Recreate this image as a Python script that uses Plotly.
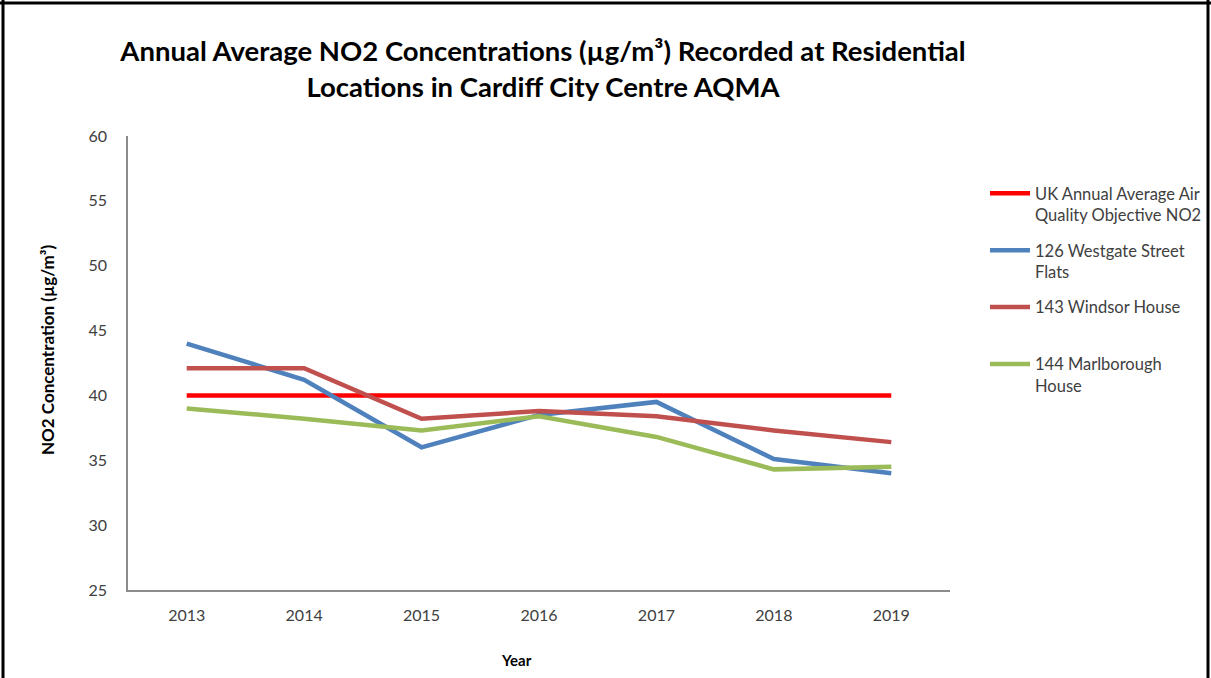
import plotly.graph_objects as go

years = ["2013", "2014", "2015", "2016", "2017", "2018", "2019"]
objective = [40, 40, 40, 40, 40, 40, 40]
westgate = [44.0, 41.2, 36.0, 38.5, 39.5, 35.1, 34.0]
windsor = [42.1, 42.1, 38.2, 38.8, 38.4, 37.3, 36.4]
marlborough = [39.0, 38.2, 37.3, 38.4, 36.8, 34.3, 34.5]

series = [
    ("UK Annual Average Air<br>Quality Objective NO2", objective, "#FF0000"),
    ("126 Westgate Street<br>Flats", westgate, "#4F81BD"),
    ("143 Windsor House<br> ", windsor, "#C0504D"),
    ("144 Marlborough<br>House", marlborough, "#9BBB59"),
]

W, H = 1211, 678
L, R, T, B = 128, 261, 136, 88
pw = W - L - R
ph = H - T - B

fig = go.Figure()
for i, (name, vals, col) in enumerate(series):
    fig.add_trace(go.Scatter(x=years, y=vals, name=name, mode="lines",
                             line=dict(color=col, width=4.5),
                             legendgroup=str(i)))

def px_x(p):
    return (p - L) / pw

def px_y(p):
    return (H - B - p) / ph

font_family = "Lato, 'Open Sans', sans-serif"
fig.update_layout(
    width=W, height=H, autosize=False,
    margin=dict(l=L, r=R, t=T, b=B, autoexpand=False),
    paper_bgcolor="white", plot_bgcolor="white",
    font=dict(family=font_family, size=16, color="#404040"),
    title=dict(text="<b>Annual Average NO2 Concentrations (µg/m³) Recorded at Residential<br>Locations in Cardiff City Centre AQMA</b>",
               x=543 / W, xanchor="center", y=1 - 61 / H, yanchor="middle",
               font=dict(size=27.5, color="#000000", family=font_family)),
    xaxis=dict(type="category", range=[-0.5, 6.5], showgrid=False, showline=True,
               linecolor="#8C8C8C", linewidth=1.5, ticks="outside", ticklen=10,
               tickcolor="rgba(0,0,0,0)", tickfont=dict(size=16, color="#404040")),
    yaxis=dict(range=[25, 60], dtick=5, showgrid=False, showline=True, linecolor="#8C8C8C",
               linewidth=1.5, ticks="outside", ticklen=16, tickcolor="rgba(0,0,0,0)",
               zeroline=False, tickfont=dict(size=16, color="#404040")),
    legend=dict(x=px_x(985), xanchor="left", y=px_y(176), yanchor="top",
                font=dict(size=16.5, color="#404040"), valign="top", tracegroupgap=11,
                itemwidth=40, bgcolor="rgba(0,0,0,0)"),
    showlegend=True,
)

# axis titles placed as annotations to match the reference positions
fig.add_annotation(text="<b>NO2 Concentration (µg/m³)</b>", xref="paper", yref="paper",
                   x=px_x(47), y=px_y(350), textangle=-90, showarrow=False,
                   font=dict(size=17, color="#000000"), xanchor="center", yanchor="middle")
fig.add_annotation(text="<b>Year</b>", xref="paper", yref="paper",
                   x=px_x(516), y=px_y(660), showarrow=False,
                   font=dict(size=15, color="#000000"), xanchor="center", yanchor="middle")

border = dict(color="#000000", width=3)
fig.add_shape(type="line", xref="paper", yref="paper", x0=px_x(3), x1=px_x(3), y0=px_y(0), y1=px_y(H), line=border)
fig.add_shape(type="line", xref="paper", yref="paper", x0=px_x(0), x1=px_x(W), y0=px_y(3), y1=px_y(3), line=border)
fig.add_shape(type="line", xref="paper", yref="paper", x0=px_x(1208), x1=px_x(1208), y0=px_y(0), y1=px_y(H), line=border)

fig.write_html("out.html",
               config={"responsive": False, "displayModeBar": False},
               post_script="document.body.style.margin='0';document.body.style.overflow='hidden';")
